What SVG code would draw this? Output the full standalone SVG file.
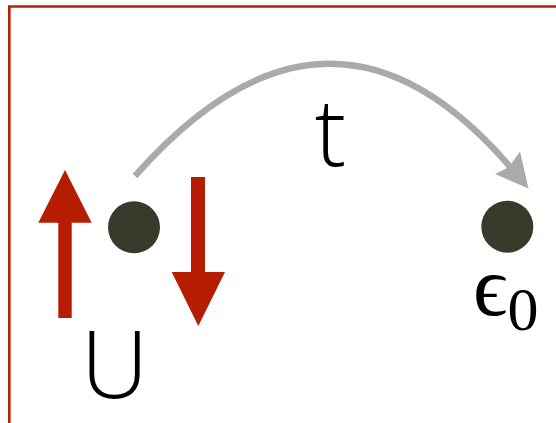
<svg xmlns="http://www.w3.org/2000/svg" width="556" height="423" viewBox="0 0 556 423">
<style>
.frame{stroke:#b51f06;stroke-width:2.6;fill:none}
.spin{fill:#b51c00}
.site{fill:#3a3a2c}
.lbl{font-family:"Open Sans","Liberation Sans",sans-serif;font-weight:300;font-size:94px;fill:#000;text-anchor:middle}
.hop{stroke:#aaaaaa;stroke-width:6.5;fill:none}
</style>
<path class="frame" d="M9.3,423 V6.5 H556"/>
<g id="connectors">
<path class="hop" d="M135,176 Q330,-45 512,169"/>
<polygon fill="#aaaaaa" points="528.5,188.5 495,174 509,167 520,151.5"/>
</g>
<g id="site-left">
<circle class="site" cx="134" cy="227.3" r="26"/>
</g>
<g id="spin-up">
<polygon class="spin" points="65,170 91.7,222.7 71.7,222.7 71.7,318 58.3,318 58.3,222.7 38.3,222.7"/>
</g>
<g id="spin-down">
<polygon class="spin" points="198.3,326 225,272 205,272 205,177 191,177 191,272 171.7,272"/>
</g>
<g id="site-right">
<circle class="site" cx="507.3" cy="226.7" r="26"/>
</g>
<text class="lbl" x="114.5" y="398">U</text>
<text class="lbl" x="330.5" y="166">t</text>
<text font-family="'Liberation Serif','DejaVu Serif',serif" fill="#000"><tspan x="473" y="315" font-size="85">ϵ</tspan><tspan y="330" font-size="62">0</tspan></text>
</svg>
